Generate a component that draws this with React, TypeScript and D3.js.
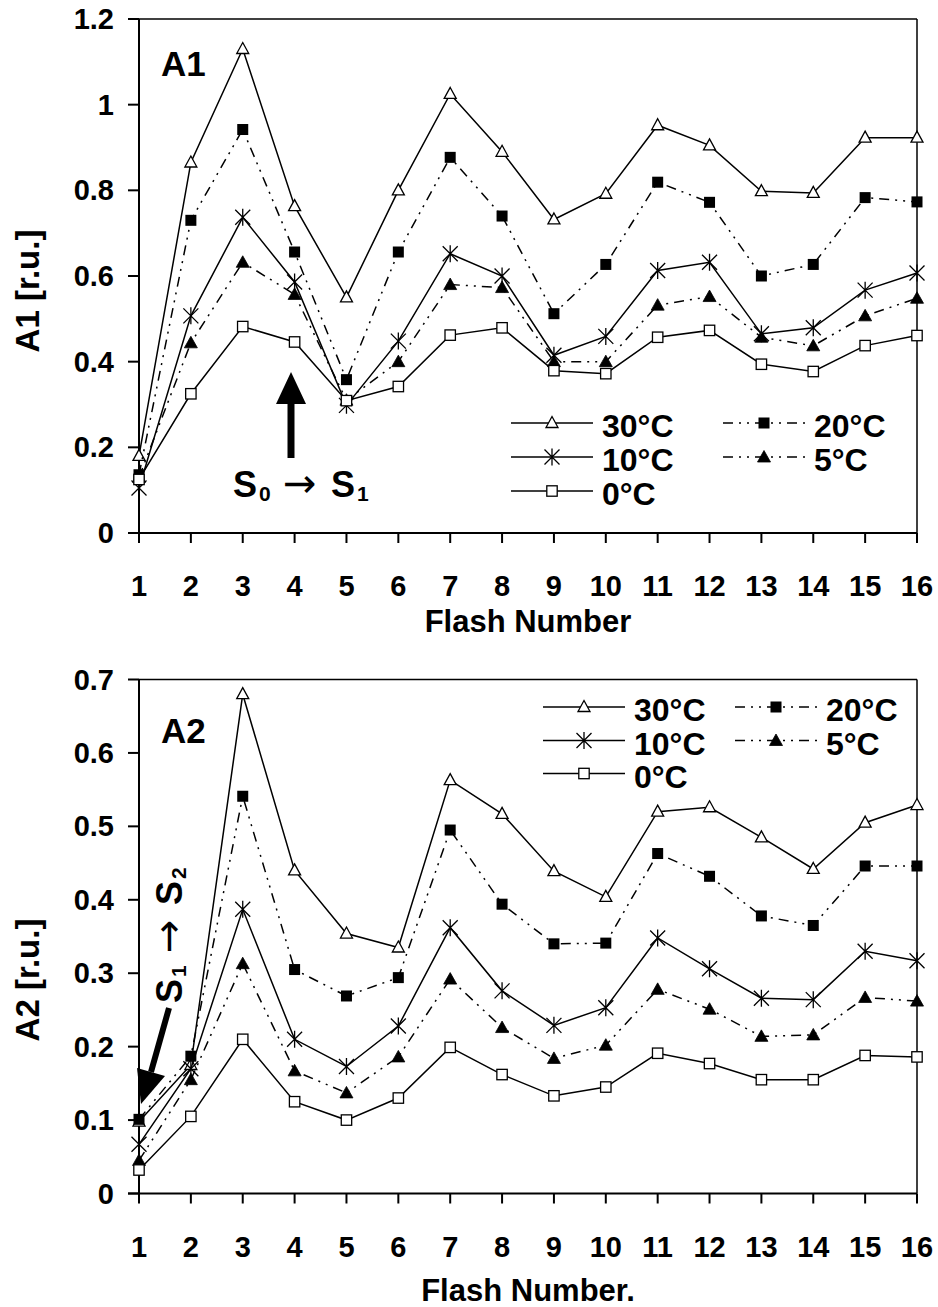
import React from "react";
import * as d3 from "d3";

// ---- data ----
const flashNumbers = [1, 2, 3, 4, 5, 6, 7, 8, 9, 10, 11, 12, 13, 14, 15, 16];

const seriesNames = ["30°C", "20°C", "10°C", "5°C", "0°C"];

// Panel A1
const a1_30 = [0.18, 0.865, 1.13, 0.763, 0.55, 0.8, 1.025, 0.89, 0.732, 0.792, 0.952, 0.905, 0.798, 0.794, 0.923, 0.923];
const a1_20 = [0.136, 0.73, 0.942, 0.656, 0.358, 0.656, 0.877, 0.74, 0.512, 0.627, 0.819, 0.772, 0.6, 0.627, 0.783, 0.773];
const a1_10 = [0.105, 0.507, 0.737, 0.586, 0.298, 0.448, 0.652, 0.6, 0.415, 0.459, 0.613, 0.632, 0.465, 0.479, 0.567, 0.607];
const a1_5 = [0.13, 0.444, 0.632, 0.557, 0.31, 0.4, 0.58, 0.573, 0.4, 0.4, 0.532, 0.552, 0.457, 0.437, 0.507, 0.548];
const a1_0 = [0.125, 0.325, 0.482, 0.446, 0.309, 0.342, 0.462, 0.479, 0.379, 0.372, 0.457, 0.473, 0.394, 0.377, 0.4375, 0.461];

// Panel A2
const a2_30 = [0.098, 0.175, 0.68, 0.44, 0.354, 0.335, 0.563, 0.517, 0.439, 0.404, 0.52, 0.526, 0.485, 0.442, 0.505, 0.529];
const a2_20 = [0.101, 0.187, 0.541, 0.305, 0.269, 0.294, 0.495, 0.394, 0.34, 0.341, 0.463, 0.432, 0.378, 0.365, 0.446, 0.446];
const a2_10 = [0.067, 0.17, 0.387, 0.21, 0.173, 0.228, 0.362, 0.276, 0.229, 0.253, 0.348, 0.306, 0.266, 0.264, 0.33, 0.317];
const a2_5 = [0.045, 0.155, 0.313, 0.167, 0.137, 0.186, 0.292, 0.226, 0.184, 0.202, 0.278, 0.251, 0.214, 0.216, 0.267, 0.262];
const a2_0 = [0.032, 0.105, 0.21, 0.125, 0.1, 0.13, 0.199, 0.162, 0.133, 0.145, 0.191, 0.177, 0.155, 0.155, 0.188, 0.186];

const a1Ticks = [0, 0.2, 0.4, 0.6, 0.8, 1, 1.2];
const a2Ticks = [0, 0.1, 0.2, 0.3, 0.4, 0.5, 0.6, 0.7];

// ---- styling ----
const FONT = "'Liberation Sans', Arial, sans-serif";
const ARROW_FONT = "'DejaVu Sans', sans-serif";
const markerKinds = ["openTri", "fillSq", "star", "fillTri", "openSq"];
const dashed = [false, true, false, true, false];
const DASH = "10,6,2,6,2,6";

function Marker({ kind, x, y }: { kind: string; x: number; y: number }) {
  const sw = 1.3;
  if (kind === "openTri")
    return <path d={`M${x},${y - 6.5}L${x + 6},${y + 4.5}L${x - 6},${y + 4.5}Z`} fill="white" stroke="black" strokeWidth={sw} />;
  if (kind === "fillTri")
    return <path d={`M${x},${y - 6.5}L${x + 6.5},${y + 5}L${x - 6.5},${y + 5}Z`} fill="black" stroke="black" strokeWidth={0.8} />;
  if (kind === "fillSq") return <rect x={x - 5.5} y={y - 5.5} width={11} height={11} fill="black" />;
  if (kind === "openSq")
    return <rect x={x - 5.2} y={y - 5.2} width={10.4} height={10.4} fill="white" stroke="black" strokeWidth={sw} />;
  // star: X plus vertical line
  const s = 7.5;
  return (
    <path
      d={`M${x - s},${y - s}L${x + s},${y + s}M${x - s},${y + s}L${x + s},${y - s}M${x},${y - s - 1}L${x},${y + s + 1}`}
      stroke="black"
      strokeWidth={sw}
      fill="none"
    />
  );
}

type PanelProps = {
  data: number[][];
  ticks: number[];
  yMax: number;
  top: number;
  bottom: number;
  tickLabelBaseline: number;
  titleBaseline: number;
  title: string;
  yTitle: string;
  yTitleY: number;
  label: string;
  labelY: number;
  legend: { col1: number; col2: number; rows: number[] };
};

const LEFT = 139;
const RIGHT = 917;

function Panel(p: PanelProps) {
  const x = d3.scaleLinear().domain([1, 16]).range([LEFT, RIGHT]);
  const y = d3.scaleLinear().domain([0, p.yMax]).range([p.bottom, p.top]);
  const line = d3
    .line<number>()
    .x((_, i) => x(flashNumbers[i]))
    .y((d) => y(d));
  const fmt = d3.format("~g");

  // legend positions: order 30,20 / 10,5 / 0
  const legendSlots = [
    [0, 0],
    [1, 0],
    [0, 1],
    [1, 1],
    [0, 2],
  ];
  const colX = [p.legend.col1, p.legend.col2];

  return (
    <g>
      {/* frame */}
      <line x1={LEFT} x2={RIGHT} y1={p.top} y2={p.top} stroke="black" strokeWidth={1.5} />
      <line x1={RIGHT} x2={RIGHT} y1={p.top} y2={p.bottom} stroke="black" strokeWidth={1.5} />
      {/* y axis */}
      <line x1={LEFT} x2={LEFT} y1={p.top} y2={p.bottom} stroke="black" strokeWidth={2} />
      {p.ticks.map((t) => (
        <g key={t}>
          <line x1={LEFT - 11} x2={LEFT} y1={y(t)} y2={y(t)} stroke="black" strokeWidth={2} />
          <text x={114} y={y(t) + 10} textAnchor="end" fontFamily={FONT} fontWeight="bold" fontSize={29}>
            {fmt(t)}
          </text>
        </g>
      ))}
      {/* x axis */}
      <line x1={LEFT - 11} x2={RIGHT} y1={p.bottom} y2={p.bottom} stroke="black" strokeWidth={2} />
      {flashNumbers.map((f) => (
        <g key={f}>
          <line x1={x(f)} x2={x(f)} y1={p.bottom} y2={p.bottom + 10} stroke="black" strokeWidth={2} />
          <text x={x(f)} y={p.tickLabelBaseline} textAnchor="middle" fontFamily={FONT} fontWeight="bold" fontSize={29}>
            {f}
          </text>
        </g>
      ))}
      <text x={(LEFT + RIGHT) / 2} y={p.titleBaseline} textAnchor="middle" fontFamily={FONT} fontWeight="bold" fontSize={31}>
        {p.title}
      </text>
      <text
        transform={`translate(39,${p.yTitleY}) rotate(-90)`}
        textAnchor="middle"
        fontFamily={FONT}
        fontWeight="bold"
        fontSize={33}
      >
        {p.yTitle}
      </text>
      <text x={161} y={p.labelY} fontFamily={FONT} fontWeight="bold" fontSize={35}>
        {p.label}
      </text>
      {/* series */}
      {p.data.map((vals, si) => (
        <g key={si}>
          <path
            d={line(vals) || ""}
            fill="none"
            stroke="black"
            strokeWidth={1.5}
            strokeDasharray={dashed[si] ? DASH : undefined}
          />
          {vals.map((v, i) => (
            <Marker key={i} kind={markerKinds[si]} x={x(flashNumbers[i])} y={y(v)} />
          ))}
        </g>
      ))}
      {/* legend */}
      {seriesNames.map((name, si) => {
        const [c, r] = legendSlots[si];
        const lx = colX[c];
        const ly = p.legend.rows[r];
        return (
          <g key={name}>
            <line
              x1={lx}
              x2={lx + 82}
              y1={ly}
              y2={ly}
              stroke="black"
              strokeWidth={1.5}
              strokeDasharray={dashed[si] ? DASH : undefined}
            />
            <Marker kind={markerKinds[si]} x={lx + 41} y={ly} />
            <text x={lx + 91} y={ly + 14} fontFamily={FONT} fontWeight="bold" fontSize={32}>
              {name}
            </text>
          </g>
        );
      })}
    </g>
  );
}

export default function App() {
  return (
    <div style={{ position: "absolute", left: 0, top: 0 }}>
      <svg width={938} height={1307} viewBox="0 0 938 1307" style={{ display: "block", background: "white" }}>
        <rect width={938} height={1307} fill="white" />
        <Panel
          data={[a1_30, a1_20, a1_10, a1_5, a1_0]}
          ticks={a1Ticks}
          yMax={1.2}
          top={19}
          bottom={533}
          tickLabelBaseline={596}
          titleBaseline={632}
          title="Flash Number"
          yTitle="A1 [r.u.]"
          yTitleY={291}
          label="A1"
          labelY={76}
          legend={{ col1: 511, col2: 723, rows: [423, 457, 491] }}
        />
        {/* S0 -> S1 annotation */}
        <path d="M291,458 L291,401" stroke="black" strokeWidth={7} />
        <path d="M291,372 L306,404 L276,404 Z" fill="black" />
        <text fontFamily={FONT} fontWeight="bold" fontSize={36}>
          <tspan x={233} y={497}>S</tspan>
          <tspan x={259} y={501} fontSize={21}>0</tspan>
          <tspan x={283} y={497} fontWeight="normal" fontSize={40} fontFamily={ARROW_FONT}>→</tspan>
          <tspan x={331} y={497}>S</tspan>
          <tspan x={357} y={501} fontSize={21}>1</tspan>
        </text>

        <Panel
          data={[a2_30, a2_20, a2_10, a2_5, a2_0]}
          ticks={a2Ticks}
          yMax={0.7}
          top={679.5}
          bottom={1193.5}
          tickLabelBaseline={1257}
          titleBaseline={1301}
          title="Flash Number."
          yTitle="A2 [r.u.]"
          yTitleY={980}
          label="A2"
          labelY={743}
          legend={{ col1: 543, col2: 735, rows: [707, 740.5, 773.5] }}
        />
        {/* S1 -> S2 annotation (rotated) */}
        <path d="M169,1008 L151,1072" stroke="black" strokeWidth={6} />
        <path d="M141,1104 L137,1068 L165,1076 Z" fill="black" />
        <g transform="translate(182,1003) rotate(-90)">
          <text fontFamily={FONT} fontWeight="bold" fontSize={36}>
            <tspan x={0} y={0}>S</tspan>
            <tspan x={26} y={4} fontSize={21}>1</tspan>
            <tspan x={50} y={0} fontWeight="normal" fontSize={40} fontFamily={ARROW_FONT}>→</tspan>
            <tspan x={98} y={0}>S</tspan>
            <tspan x={124} y={4} fontSize={21}>2</tspan>
          </text>
        </g>
      </svg>
    </div>
  );
}
